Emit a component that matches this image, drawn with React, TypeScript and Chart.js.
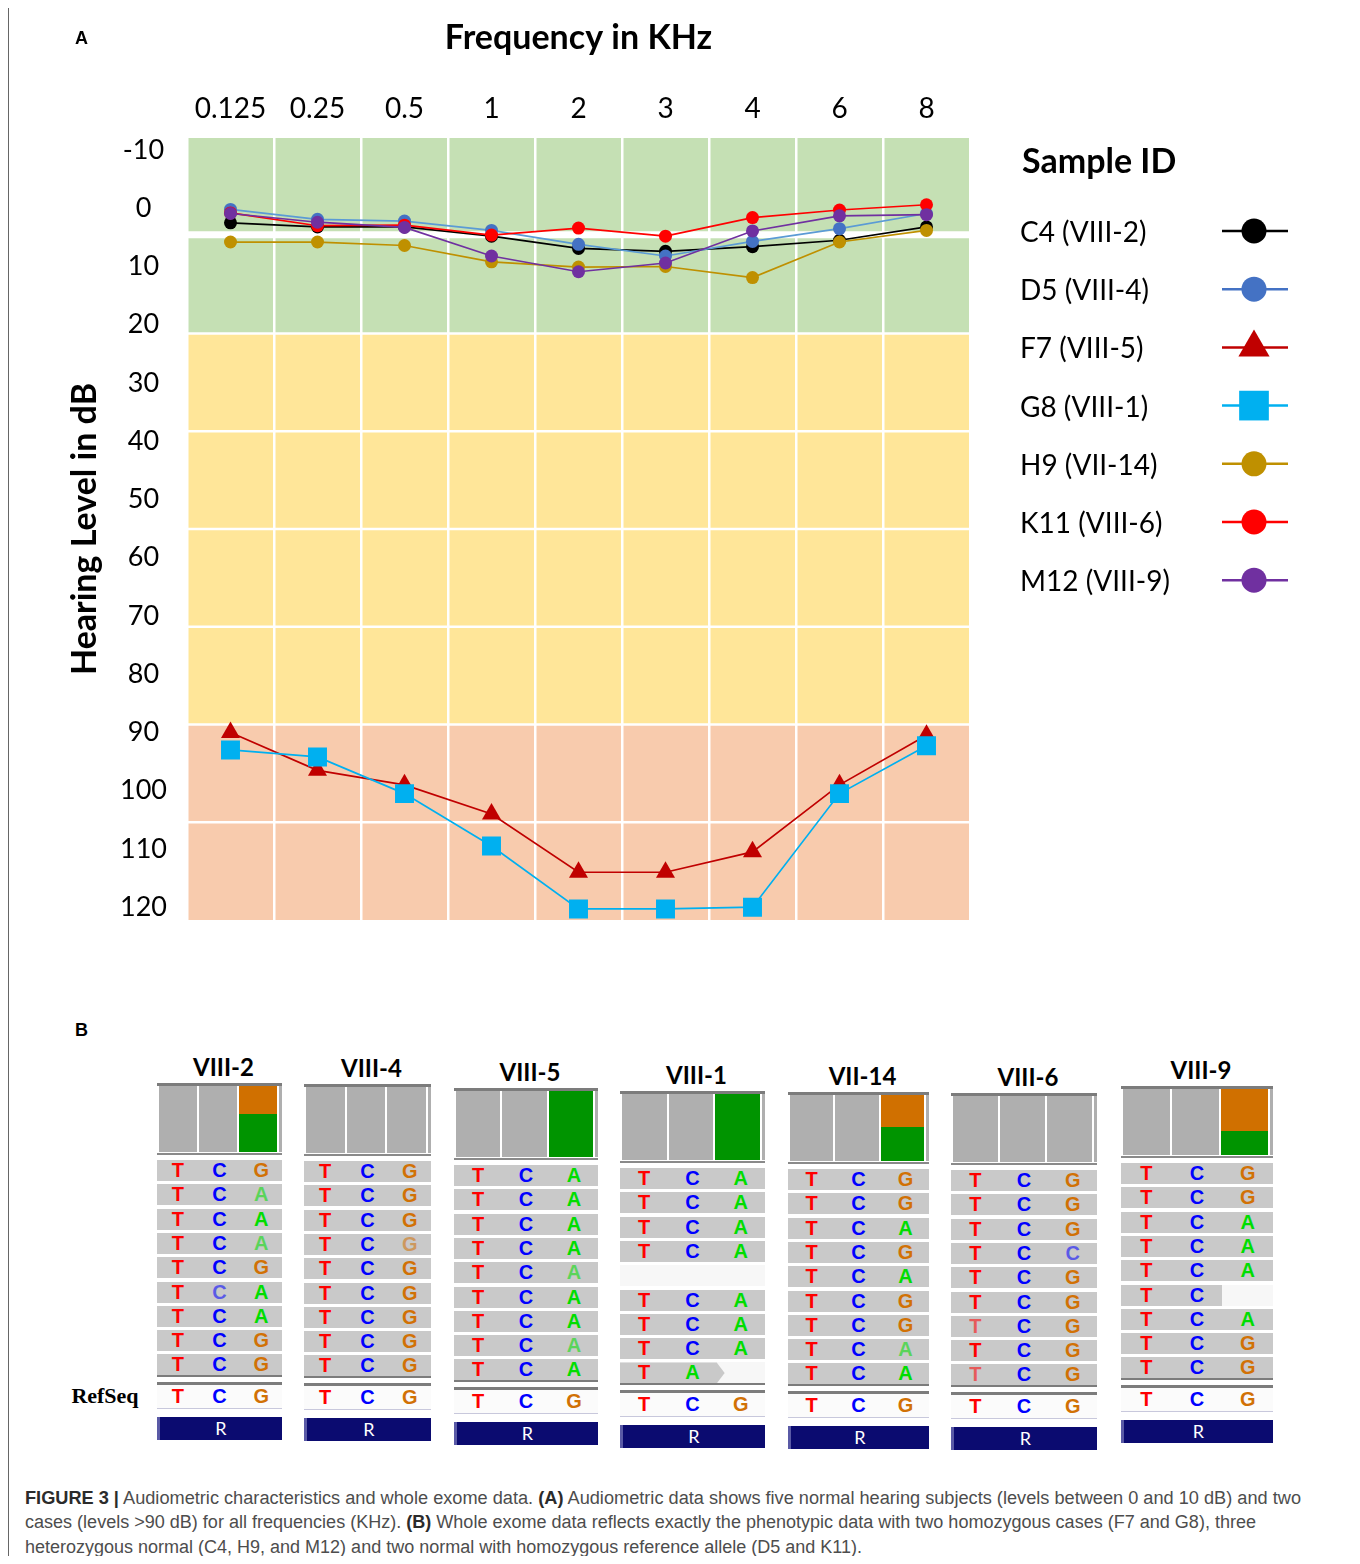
import React, { useEffect, useLayoutEffect, useRef } from "react";
import { Chart, registerables } from "chart.js";

Chart.register(...registerables);

// ---------------- Panel A data ----------------
const freqLabels = ["0.125", "0.25", "0.5", "1", "2", "3", "4", "6", "8"];
const yTickValues = [-10, 0, 10, 20, 30, 40, 50, 60, 70, 80, 90, 100, 110, 120];
const seriesNames = ["C4 (VIII-2)", "D5 (VIII-4)", "F7 (VIII-5)", "G8 (VIII-1)", "H9 (VII-14)", "K11 (VIII-6)", "M12 (VIII-9)"];
const c4Values = [2.5, 3.2, 3.2, 4.8, 6.9, 7.4, 6.6, 5.5, 3.2];
const d5Values = [0.2, 1.9, 2.2, 3.8, 6.2, 8.2, 5.7, 3.5, 0.9];
const f7Values = [90, 96.5, 99, 104, 114, 114, 110.5, 99, 90.5];
const g8Values = [93, 94.2, 100.5, 109.5, 120.3, 120.3, 120, 100.5, 92.3];
const h9Values = [5.8, 5.8, 6.4, 9.2, 10.1, 10, 11.9, 5.8, 3.8];
const k11Values = [0.8, 3.0, 2.9, 4.6, 3.4, 4.8, 1.6, 0.3, -0.6];
const m12Values = [0.9, 2.4, 3.3, 8.2, 10.9, 9.4, 3.9, 1.3, 1.1];
const zoneRows = [2, 4, 2];

// ---------------- Panel B data ----------------
const trackNames = ["VIII-2", "VIII-4", "VIII-5", "VIII-1", "VII-14", "VIII-6", "VIII-9"];
const readsVIII2 = ["TCG", "TCa", "TCA", "TCa", "TCG", "TcA", "TCA", "TCG", "TCG"];
const readsVIII4 = ["TCG", "TCG", "TCG", "TCg", "TCG", "TCG", "TCG", "TCG", "TCG"];
const readsVIII5 = ["TCA", "TCA", "TCA", "TCA", "TCa", "TCA", "TCA", "TCa", "TCA"];
const readsVIII1 = ["TCA", "TCA", "TCA", "TCA", "", "TCA", "TCA", "TCA", "TA>"];
const readsVII14 = ["TCG", "TCG", "TCA", "TCG", "TCA", "TCG", "TCG", "TCa", "TCA"];
const readsVIII6 = ["TCG", "TCG", "TCG", "TCc", "TCG", "TCG", "tCG", "TCG", "tCG"];
const readsVIII9 = ["TCG", "TCG", "TCA", "TCA", "TCA", "TC", "TCA", "TCG", "TCG"];
const altFractions = [0.57, 0, 1, 1, 0.52, 0, 0.37];
const refSeq = "TCG";

// ---------------- caption ----------------
const captionLine1a = "Audiometric characteristics and whole exome data. ";
const captionLine1b = "Audiometric data shows five normal hearing subjects (levels between 0 and 10 dB) and two";
const captionLine2a = "cases (levels >90 dB) for all frequencies (KHz). ";
const captionLine2b = "Whole exome data reflects exactly the phenotypic data with two homozygous cases (F7 and G8), three";
const captionLine3 = "heterozygous normal (C4, H9, and M12) and two normal with homozygous reference allele (D5 and K11).";

// ---------------- styles ----------------
const seriesLineColors = ["#000000", "#5B9BD5", "#C00000", "#00B0F0", "#BF9000", "#FF0000", "#7030A0"];
const seriesPointColors = ["#000000", "#4472C4", "#C00000", "#00B0F0", "#BF9000", "#FF0000", "#7030A0"];
const seriesPointStyles = ["circle", "circle", "triangle", "rect", "circle", "circle", "circle"];
const seriesPointRadii = [6.5, 6.5, 11, 13.4, 6.5, 6.5, 6.5];
const legendRadii = [12.5, 12.5, 18, 21, 12.5, 12.5, 12.5];
const zoneColors = ["#C5E0B4", "#FFE699", "#F8CBAD"];
const baseColors: Record<string, string> = { T: "#ff0000", C: "#0000ff", G: "#d17105", A: "#00dd00" };
const trackLayout = [
  { x: 157, w: 125, top: 1083 },
  { x: 304, w: 127, top: 1084 },
  { x: 454, w: 144, top: 1088 },
  { x: 620, w: 145, top: 1091 },
  { x: 788, w: 141, top: 1092 },
  { x: 951, w: 146, top: 1093 },
  { x: 1121, w: 152, top: 1086 },
];
const captionWidths = [1276, 1231, 837];
const FONT = "Lato, 'Open Sans', sans-serif";

function drawMarker(ctx: CanvasRenderingContext2D, style: string, x: number, y: number, r: number) {
  ctx.beginPath();
  if (style === "circle") {
    ctx.arc(x, y, r, 0, Math.PI * 2);
  } else if (style === "triangle") {
    let a = 0;
    ctx.moveTo(x + Math.sin(a) * r, y - Math.cos(a) * r);
    a += (2 * Math.PI) / 3;
    ctx.lineTo(x + Math.sin(a) * r, y - Math.cos(a) * r);
    a += (2 * Math.PI) / 3;
    ctx.lineTo(x + Math.sin(a) * r, y - Math.cos(a) * r);
    ctx.closePath();
  } else {
    const s = Math.SQRT1_2 * r;
    ctx.rect(x - s, y - s, 2 * s, 2 * s);
  }
  ctx.fill();
}

const bandPlugin = {
  id: "bands",
  beforeDraw(chart: any) {
    const { ctx, chartArea } = chart;
    const { left, right, top, bottom } = chartArea;
    const total = zoneRows.reduce((a, b) => a + b, 0);
    const rowH = (bottom - top) / total;
    ctx.save();
    let r = 0;
    zoneRows.forEach((n, zi) => {
      ctx.fillStyle = zoneColors[zi];
      ctx.fillRect(left, top + r * rowH, right - left, n * rowH);
      r += n;
    });
    ctx.strokeStyle = "#ffffff";
    for (let i = 1; i < total; i++) {
      ctx.lineWidth = i === 1 ? 7 : 2.5;
      const y = top + i * rowH - (i === 1 ? 1 : 0);
      ctx.beginPath();
      ctx.moveTo(left, y);
      ctx.lineTo(right, y);
      ctx.stroke();
    }
    ctx.restore();
  },
};

const sideLegendPlugin = {
  id: "sideLegend",
  afterDraw(chart: any) {
    const ctx: CanvasRenderingContext2D = chart.ctx;
    ctx.save();
    ctx.textAlign = "left";
    ctx.textBaseline = "middle";
    ctx.fillStyle = "#000";
    ctx.font = `bold 34px ${FONT}`;
    ctx.fillText("Sample ID", 1022, 162);
    chart.data.datasets.forEach((ds: any, i: number) => {
      const y = 233 + i * 58.2;
      ctx.fillStyle = "#000";
      ctx.font = `28px ${FONT}`;
      ctx.fillText(ds.label, 1020, y);
      const my = y - 2;
      ctx.strokeStyle = ds.pointBackgroundColor;
      ctx.lineWidth = 2.5;
      ctx.beginPath();
      ctx.moveTo(1222, my);
      ctx.lineTo(1288, my);
      ctx.stroke();
      ctx.fillStyle = ds.pointBackgroundColor;
      drawMarker(ctx, ds.pointStyle, 1254, my, legendRadii[i]);
    });
    ctx.restore();
  },
};

function AudiogramChart() {
  const ref = useRef<HTMLCanvasElement | null>(null);
  useEffect(() => {
    const canvas = ref.current;
    if (!canvas) return;
    const seriesValues = [c4Values, d5Values, f7Values, g8Values, h9Values, k11Values, m12Values];
    const datasets = seriesNames.map((name, i) => ({
      label: name,
      data: seriesValues[i],
      borderColor: seriesLineColors[i],
      backgroundColor: seriesPointColors[i],
      pointBackgroundColor: seriesPointColors[i],
      pointBorderColor: seriesPointColors[i],
      pointStyle: seriesPointStyles[i],
      pointRadius: seriesPointRadii[i],
      pointBorderWidth: 0,
      borderWidth: 1.7,
      tension: 0,
      order: seriesNames.length - i,
    }));
    const chart = new Chart(canvas, {
      type: "line",
      data: { labels: freqLabels, datasets },
      plugins: [bandPlugin, sideLegendPlugin],
      options: {
        animation: false,
        responsive: false,
        devicePixelRatio: 1,
        layout: { padding: { left: 0, right: 390, top: 0, bottom: 40 } },
        plugins: {
          legend: { display: false },
          tooltip: { enabled: false },
          title: {
            display: true,
            text: "Frequency in KHz",
            fullSize: false,
            color: "#000",
            font: { family: FONT, size: 34, weight: "bold", lineHeight: 1.2 },
            padding: { top: 18, bottom: 10 },
          },
        },
        scales: {
          x: {
            type: "category",
            position: "top",
            offset: true,
            grid: { color: "#ffffff", lineWidth: 2.5, offset: true, drawTicks: false },
            border: { display: false },
            ticks: { color: "#000", font: { family: FONT, size: 28 }, padding: 12, maxRotation: 0, autoSkip: false },
            afterFit: (s: any) => {
              s.height = 69.2;
            },
          },
          y: {
            type: "linear",
            reverse: true,
            min: -12.06,
            max: 122.2,
            afterBuildTicks: (s: any) => {
              s.ticks = yTickValues.map((v) => ({ value: v }));
            },
            grid: { display: false },
            border: { display: false },
            ticks: { color: "#000", font: { family: FONT, size: 27 }, padding: 12, crossAlign: "center" },
            title: {
              display: true,
              text: "Hearing Level in dB",
              color: "#000",
              font: { family: FONT, size: 34, weight: "bold", lineHeight: 1.2 },
              padding: { top: 64.6, bottom: 0 },
            },
            afterFit: (s: any) => {
              s.width = 187;
            },
          },
        },
      } as any,
    });
    return () => chart.destroy();
  }, []);
  return (
    <canvas
      ref={ref}
      width={1360}
      height={960}
      style={{ position: "absolute", left: 0, top: 0, width: 1360, height: 960 }}
    />
  );
}

function Track({ name, reads, alt, layout }: { name: string; reads: string[]; alt: number; layout: { x: number; w: number; top: number } }) {
  const { x, w, top } = layout;
  const pitch = 24.3;
  const rowH = 21;
  const covTop = top + 3;
  const covH = 66;
  const readsTop = top + 77;
  const readsEnd = readsTop + (reads.length - 1) * pitch + rowH;
  const inner = w - 7;
  const colW = (inner - 4) / 3;
  const cols = [0, 1, 2].map((i) => x + 2 + i * (colW + 2));
  const letterX = (k: number) => (w * (2 * k + 1)) / 6;
  const letter = (ch: string, k: number, key: string, h: number) => {
    const up = ch.toUpperCase();
    const faded = ch !== up;
    return (
      <div
        key={key}
        style={{
          position: "absolute",
          left: letterX(k) - 15,
          width: 30,
          top: 0,
          height: h,
          lineHeight: h + "px",
          textAlign: "center",
          color: baseColors[up],
          opacity: faded ? 0.55 : 1,
          fontFamily: "'Liberation Sans', Arial, sans-serif",
          fontWeight: "bold",
          fontSize: 20,
        }}
      >
        {up}
      </div>
    );
  };
  return (
    <>
      <div
        style={{
          position: "absolute",
          left: x + w / 2 - 56,
          width: 120,
          top: top - 31,
          height: 30,
          lineHeight: "30px",
          textAlign: "center",
          fontFamily: FONT,
          fontWeight: "bold",
          fontSize: 24,
          color: "#000",
        }}
      >
        {name}
      </div>
      <div style={{ position: "absolute", left: x, top, width: w, height: 3, background: "#7c7c7c" }} />
      {cols.map((cx, i) => {
        if (i === 2 && alt > 0) {
          const greenH = covH * alt;
          return (
            <React.Fragment key={i}>
              <div style={{ position: "absolute", left: cx, top: covTop, width: colW, height: covH - greenH, background: "#d07000" }} />
              <div style={{ position: "absolute", left: cx, top: covTop + covH - greenH, width: colW, height: greenH, background: "#009400" }} />
            </React.Fragment>
          );
        }
        return <div key={i} style={{ position: "absolute", left: cx, top: covTop, width: colW, height: covH, background: "#afafaf" }} />;
      })}
      <div style={{ position: "absolute", left: x + w - 3, top: covTop, width: 3, height: covH, background: "#afafaf" }} />
      <div style={{ position: "absolute", left: x, top: covTop + covH + 1, width: w, height: 2, background: "#8a8a8a" }} />
      {reads.map((r, ri) => {
        const arrow = r.endsWith(">");
        const bases = arrow ? r.slice(0, -1) : r;
        const rowTop = readsTop + ri * pitch;
        const covered = bases.length;
        const bgW = covered === 3 ? w : (w * covered) / 3 + (arrow ? 8 : 0);
        return (
          <div key={ri} style={{ position: "absolute", left: x, top: rowTop, width: w, height: rowH, background: "#f7f7f7" }}>
            {covered > 0 && (
              <div
                style={{
                  position: "absolute",
                  left: 0,
                  top: 0,
                  width: bgW,
                  height: rowH,
                  background: "#c9c9c9",
                  clipPath: arrow ? "polygon(0 0, calc(100% - 8px) 0, 100% 50%, calc(100% - 8px) 100%, 0 100%)" : undefined,
                }}
              />
            )}
            {bases.split("").map((ch, k) => letter(ch, k, ri + "-" + k, rowH))}
          </div>
        );
      })}
      <div style={{ position: "absolute", left: x, top: readsEnd, width: w, height: 2, background: "#7c7c7c" }} />
      <div style={{ position: "absolute", left: x, top: readsEnd + 7, width: w, height: 3, background: "#7c7c7c" }} />
      <div style={{ position: "absolute", left: x, top: readsEnd + 10, width: w, height: 23, background: "#fbfbfb", borderBottom: "1px solid #c8c8dc" }}>
        {refSeq.split("").map((ch, k) => letter(ch, k, "ref" + k, 23))}
      </div>
      <div
        style={{
          position: "absolute",
          left: x,
          top: readsEnd + 42,
          width: w,
          height: 23,
          background: "#0b0b70",
          borderLeft: "3px solid #5a5aa6",
          boxSizing: "border-box",
          color: "#fff",
          textAlign: "center",
          lineHeight: "23px",
          fontFamily: FONT,
          fontSize: 18,
        }}
      >
        R
      </div>
    </>
  );
}

export default function App() {
  const trackReads = [readsVIII2, readsVIII4, readsVIII5, readsVIII1, readsVII14, readsVIII6, readsVIII9];
  const capRefs = useRef<(HTMLDivElement | null)[]>([]);
  useLayoutEffect(() => {
    capRefs.current.forEach((el, i) => {
      if (!el) return;
      el.style.transform = "none";
      const w = el.getBoundingClientRect().width;
      if (w > 0) el.style.transform = `scaleX(${captionWidths[i] / w})`;
    });
  }, []);
  const capFont = "'Liberation Sans', Arial, sans-serif";
  const bold = { color: "#2b2b2b", fontWeight: "bold" as const };
  const capLine = (i: number, top: number, content: React.ReactNode) => (
    <div
      ref={(el) => {
        capRefs.current[i] = el;
      }}
      style={{
        position: "absolute",
        left: 25,
        top,
        height: 24,
        lineHeight: "24px",
        whiteSpace: "nowrap",
        fontFamily: capFont,
        fontSize: 18,
        color: "#4d4d4d",
        transformOrigin: "left center",
      }}
    >
      {content}
    </div>
  );
  return (
    <div style={{ position: "relative", margin: -8, marginBottom: -8, width: 1360, height: 1564, overflow: "hidden", background: "#fff" }}>
      <div style={{ position: "absolute", left: 8, top: 6, width: 1349, height: 1600, borderLeft: "1px solid #666", borderTop: "1px solid #666", borderRight: "1px solid #666", boxSizing: "border-box" }} />
      <AudiogramChart />
      <div style={{ position: "absolute", left: 75, top: 27, fontFamily: "'Liberation Sans', Arial, sans-serif", fontWeight: "bold", fontSize: 18, lineHeight: "22px" }}>A</div>
      <div style={{ position: "absolute", left: 75, top: 1019, fontFamily: "'Liberation Sans', Arial, sans-serif", fontWeight: "bold", fontSize: 18, lineHeight: "22px" }}>B</div>
      {trackNames.map((n, i) => (
        <Track key={n} name={n} reads={trackReads[i]} alt={altFractions[i]} layout={trackLayout[i]} />
      ))}
      <div style={{ position: "absolute", left: 60, width: 90, top: 1382, height: 28, lineHeight: "28px", textAlign: "center", fontFamily: "'Liberation Serif', 'Times New Roman', serif", fontWeight: "bold", fontSize: 22 }}>RefSeq</div>
      {capLine(0, 1486, (
        <>
          <span style={bold}>FIGURE 3 |</span> {captionLine1a}
          <span style={bold}>(A)</span> {captionLine1b}
        </>
      ))}
      {capLine(1, 1510, (
        <>
          {captionLine2a}
          <span style={bold}>(B)</span> {captionLine2b}
        </>
      ))}
      {capLine(2, 1535, <>{captionLine3}</>)}
    </div>
  );
}
